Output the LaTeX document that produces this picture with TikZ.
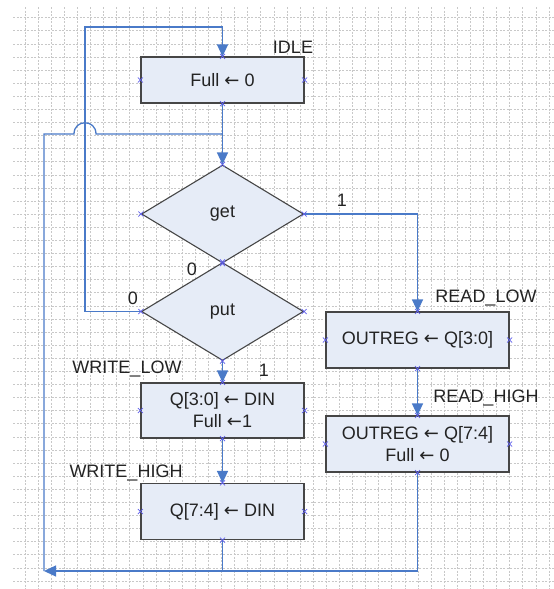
\documentclass[tikz,border=0pt]{standalone}
\usepackage{fontspec}
\setmainfont{Liberation Sans}
\newfontfamily\arrowfont{DejaVu Sans}
\usetikzlibrary{arrows.meta,calc,positioning,shapes.geometric}
\definecolor{flow}{RGB}{74,122,200}
\definecolor{boxfill}{RGB}{230,236,247}
\definecolor{boxline}{RGB}{70,70,70}
\definecolor{cpoint}{RGB}{95,95,235}
\definecolor{txt}{RGB}{35,35,35}
\definecolor{gridc}{RGB}{200,200,200}
\newcommand{\la}{{\arrowfont ←}}
\tikzset{
  stbox/.style={draw=boxline,fill=boxfill,line width=1.1pt,align=center,inner sep=0pt,text=txt},
  decision/.style={stbox,diamond,aspect=1.65,minimum width=162pt,minimum height=98pt},
  wire/.style={draw=flow,line width=1.3pt},
  tip/.style={-{Triangle[length=12pt,width=11pt]}},
  lbl/.style={text=txt,inner sep=0pt},
  gridline/.style={gridc,line width=.7pt,dash pattern=on 2pt off 1.5pt},
}

\begin{document}
\begin{tikzpicture}[x=1pt,y=-1pt,font=\fontsize{18}{22}\selectfont]
\useasboundingbox (0,0) rectangle (554,589);
% background grid
\foreach \gx in {0,...,40} \draw[gridline] ({25+13.1*\gx},7) -- ({25+13.1*\gx},589);
\foreach \gy in {0,...,43} \draw[gridline] (13,{17.7+13.1*\gy}) -- (554,{17.7+13.1*\gy});
% states and tests
\node[stbox,minimum width=163pt,minimum height=46pt] (idle) at (222.5,80) {Full \la{} 0};
\node[decision] (get) at (222.5,214) {get};
\node[decision] (put) at (222.5,311.5) {put};
\node[stbox,minimum width=163pt,minimum height=55pt] (wl) at (222.5,410.5) {Q[3:0] \la{} DIN\\Full \la1};
\node[stbox,minimum width=163pt,minimum height=56pt] (wh) at (222.5,511.5) {Q[7:4] \la{} DIN};
\node[stbox,minimum width=183pt,minimum height=56pt] (rl) at (417.5,340) {OUTREG \la{} Q[3:0]};
\node[stbox,minimum width=183pt,minimum height=56pt] (rh) at (417.5,444) {OUTREG \la{} Q[7:4]\\Full \la{} 0};
\node[lbl] (n-idle) at (293,47) {IDLE};
\node[lbl] (n-rl) at (486,298) {READ\_LOW};
\node[lbl] (n-rh) at (486,398) {READ\_HIGH};
\node[lbl] (n-wl) at (127,369) {WRITE\_LOW};
\node[lbl] (n-wh) at (126,473) {WRITE\_HIGH};
\node[lbl] (v-get1) at (342,200) {1};
\node[lbl] (v-get0) at (192,269) {0};
\node[lbl] (v-put0) at (133,298) {0};
\node[lbl] (v-put1) at (264,370) {1};
% connectors
\coordinate (c-up) at (85,27);
\coordinate (c-bl) at (44,571);
\coordinate (c-ret) at (44,134);
\coordinate (hop) at (85,134);
\draw[wire,tip] (idle.south) -- (get.north);
\draw[wire,tip] (get.east) -| (rl.north);
\draw[wire,tip] (put.west) -| (c-up) -| (idle.north);
\draw[wire,tip] (put.south) -- (wl.north);
\draw[wire,tip] (wl.south) -- (wh.north);
\draw[wire,tip] (rl.south) -- (rh.north);
\draw[wire] (rh.south) |- (wh.south |- c-bl);
\draw[wire,tip] (wh.south) |- (c-bl);
\draw[wire] (c-bl) -- (c-ret) -- ($(hop)+(-11,0)$) .. controls +(0,-15) and +(0,-15) .. ++(22,0) -- (idle.south |- c-ret);
% connection points
\foreach \n in {idle,get,put,wl,wh,rl,rh}
  \foreach \a in {north,south,east,west}
    \draw[cpoint,line width=.7pt] ($(\n.\a)+(-2.5,-2.5)$) -- +(5,5) +(0,5) -- +(5,0);
\end{tikzpicture}
\end{document}
